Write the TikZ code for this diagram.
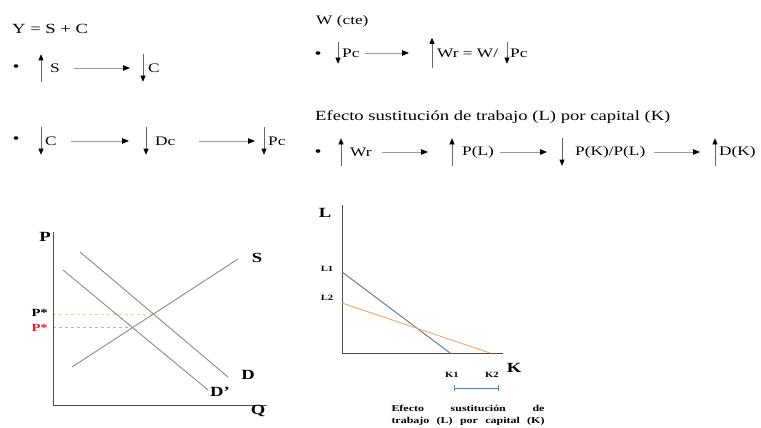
\documentclass[tikz,border=0pt]{standalone}
\usepackage{fontspec}
\setmainfont{Liberation Serif}[FakeStretch=1.33]
\usetikzlibrary{positioning, arrows.meta, calc}

\definecolor{lineg}{HTML}{8A8A8A}
\definecolor{sand}{HTML}{F2A66A}
\definecolor{slate}{HTML}{6E7E90}
\definecolor{pred}{HTML}{E8202A}
\definecolor{brk}{HTML}{5B7DB8}

\begin{document}
\begin{tikzpicture}[x=1pt, y=-1pt,
  plain/.style={anchor=west, inner sep=0pt, font=\fontsize{13}{15}\selectfont},
  txt/.style={anchor=west, inner sep=0pt, minimum height=27pt, font=\fontsize{13}{15}\selectfont},
  bul/.style={inner sep=0pt, font=\fontsize{15}{17}\selectfont},
  arr/.style={-{Triangle[length=7pt, width=5.5pt, color=black]}, draw=black!40, line width=0.8pt},
  varr/.style={-{Triangle[length=6pt, width=5pt, color=black]}, draw=black!60, line width=0.6pt},
  axis/.style={draw=black!70, line width=0.9pt},
  curve/.style={draw=lineg, line width=0.9pt},
  lbl/.style={font=\fontsize{14}{16}\selectfont\bfseries, inner sep=0pt},
  plbl/.style={font=\fontsize{11}{13}\selectfont\bfseries, inner sep=0pt},
  klbl/.style={font=\fontsize{8}{10}\selectfont\bfseries, inner sep=0pt},
  capnote/.style={text width=153pt, align=justify, inner sep=0pt,
              font=\fontsize{9}{12}\selectfont\bfseries},
]
\useasboundingbox (0,0) rectangle (761,428);

% Left block: Y = S + C
\node[plain, font=\fontsize{14}{16}\selectfont] (eq) at (12,29) {Y = S + C};
\node[bul] (b1) at (16,68) {\textbullet};
\node[txt] (s1) at (50,68) {S};
\node[txt] (c1) at (148,68) {C};

\node[bul] (b2) at (16,140) {\textbullet};
\node[txt] (c2) at (45,141) {C};
\node[txt] (dc) at (155,141) {Dc};
\node[txt] (pc1) at (268,141) {Pc};

% Right block: W (cte)
\node[plain] (w) at (316,21) {W (cte)};
\node[bul] (b3) at (318,55) {\textbullet};
\node[txt, minimum height=21pt, yshift=2pt] (pc2) at (342,55) {Pc};
\node[txt, minimum height=30pt] (wr1) at (437,53) {Wr = W/};
\node[txt, minimum height=21pt, yshift=2pt] (pc3) at (510,55) {Pc};

% Right block: efecto sustitucion
\node[plain, font=\fontsize{14}{16}\selectfont] (ef) at (315,117) {Efecto sustitución de trabajo (L) por capital (K)};
\node[bul] (b4) at (318,153) {\textbullet};
\node[txt] (wr2) at (350,152) {Wr};
\node[txt] (pl) at (462,152) {P(L)};
\node[txt] (pk) at (575,152) {P(K)/P(L)};
\node[txt] (dk) at (719,152) {D(K)};

% Up and down arrows beside the texts
\foreach \n/\o in {s1/9, wr1/5, wr2/9, pl/10, dk/4}
  \draw[varr] ([xshift=-\o pt]\n.south west) -- ([xshift=-\o pt]\n.north west);
\foreach \n/\o in {c1/5, c2/4, dc/9, pc1/4, pc2/4, pc3/3, pk/13}
  \draw[varr] ([xshift=-\o pt]\n.north west) -- ([xshift=-\o pt]\n.south west);

% Horizontal arrows
\draw[arr, shorten <=14pt, shorten >=18pt] (s1.east) -- (c1.west);
\draw[arr, shorten <=14pt, shorten >=26pt] (c2.east) -- (dc.west);
\draw[arr, shorten <=23pt, shorten >=13pt] (dc.east) -- (pc1.west);
\draw[arr, shorten <=5pt, shorten >=28pt] (pc2.east) -- (wr1.west);
\draw[arr, shorten <=10pt, shorten >=34pt] (wr2.east) -- (pl.west);
\draw[arr, shorten <=6pt, shorten >=28pt] (pl.east) -- (pk.west);
\draw[arr, shorten <=8pt, shorten >=19pt] (pk.east) -- (dk.west);

% Supply and demand graph
\coordinate (o1) at (53,405);
\coordinate (s0) at (72,367);  \coordinate (s9) at (238,259);
\coordinate (d0) at (80,252);  \coordinate (d9) at (228,377);
\coordinate (e0) at (63,270);  \coordinate (e9) at (208,390);
\coordinate (x1) at (intersection of s0--s9 and d0--d9);
\coordinate (x2) at (intersection of s0--s9 and e0--e9);
\draw[sand!55, dashed, line width=0.9pt] (x1 -| o1) -- (x1);
\draw[sand, dashed, line width=0.9pt] (x2 -| o1) -- (x2);
\draw[axis] (53,232) -- (o1) -- (267,405);
\draw[curve] (s0) -- (s9);
\draw[curve] (d0) -- (d9);
\draw[curve] (e0) -- (e9);
\node[lbl] (pa) at (45,237) {P};
\node[lbl] (qa) at (258,411) {Q};
\node[lbl] (sa) at (257,258) {S};
\node[lbl] (da) at (248,375) {D};
\node[lbl] (dpa) at (220,392) {D'};
\node[plbl, anchor=east] (p1) at (48,313) {P*};
\node[plbl, anchor=east, text=pred] (p2) at (48,328) {P*};

% Labour and capital graph
\coordinate (o2) at (342,353);
\coordinate (l1c) at (342,272); \coordinate (k1c) at (450,353);
\coordinate (l2c) at (342,303); \coordinate (k2c) at (490,353);
\draw[axis] (342,205) -- (o2) -- (503,353);
\draw[slate, line width=1pt] (l1c) -- (k1c);
\draw[sand, line width=0.9pt] (l2c) -- (k2c);
\node[lbl] (la) at (325,213) {L};
\node[lbl] (ka) at (514,368) {K};
\node[klbl] (l1) at (327,269) {L1};
\node[klbl] (l2) at (327,298) {L2};
\node[klbl] (k1) at (452,375) {K1};
\node[klbl] (k2) at (492,375) {K2};
\coordinate (bk1) at (454,388); \coordinate (bk2) at (499,388);
\draw[brk, line width=0.6pt, {Bar[width=6pt]}-{Bar[width=6pt]}] (bk1) -- (bk2);
\node[capnote] (note) at (468,415) {Efecto sustitución de\linebreak
  \makebox[\linewidth][s]{trabajo (L) por capital (K)}};

\end{tikzpicture}
\end{document}
